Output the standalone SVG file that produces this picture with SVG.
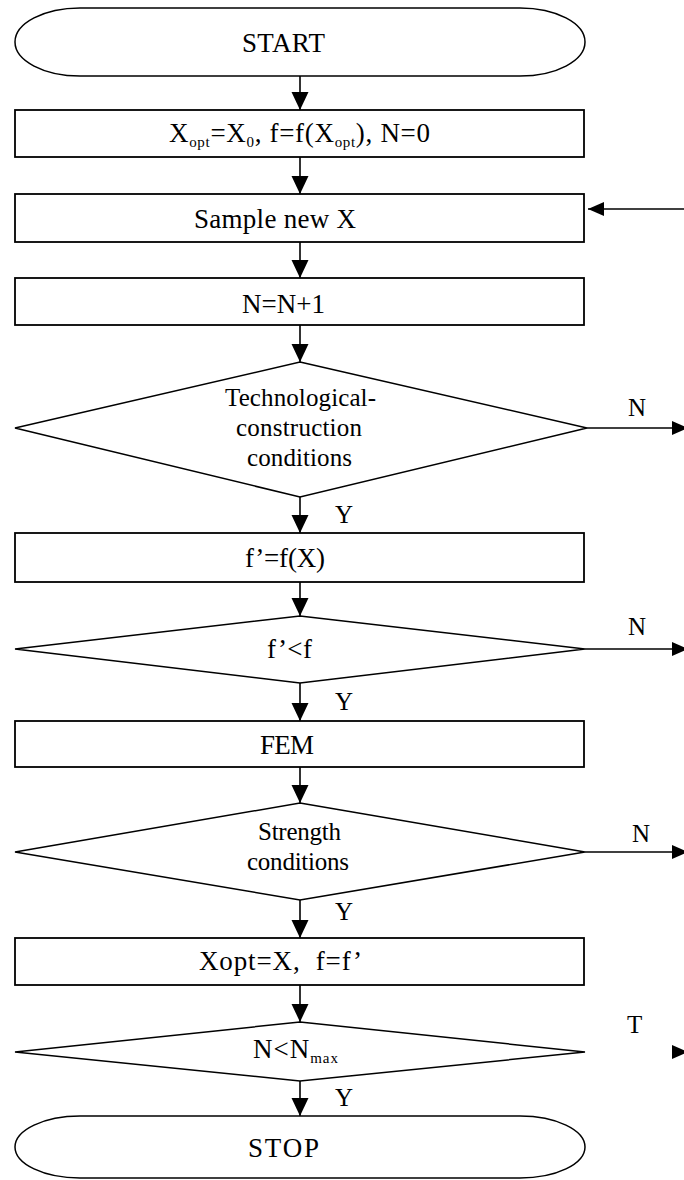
<svg xmlns="http://www.w3.org/2000/svg" width="684" height="1180" viewBox="0 0 684 1180" font-family="'Liberation Serif', 'DejaVu Serif', 'Times New Roman', serif">
<style>
.shape{fill:#ffffff;stroke:#000000;stroke-width:1.8}
.dia{fill:#ffffff;stroke:#000000;stroke-width:1.5}
.t{font-family:'Liberation Serif','DejaVu Serif',serif;font-size:27px;fill:#000000}
.d{font-family:'Liberation Serif','DejaVu Serif',serif;font-size:25px;fill:#000000}
.lbl{font-family:'Liberation Serif','DejaVu Serif',serif;font-size:25px;fill:#000000}
.sub{font-size:15px}
.c{fill:none;stroke:#000000;stroke-width:1.6}
.head{fill:#000000}
</style>
<defs>
<marker id="ah" markerUnits="userSpaceOnUse" markerWidth="17" markerHeight="18" refX="18" refY="8.5" orient="auto">
<path d="M0,0 L18,8.5 L0,17 Z" fill="#000000"/>
</marker>
<marker id="ahs" markerUnits="userSpaceOnUse" markerWidth="16" markerHeight="14" refX="16" refY="7" orient="auto">
<path d="M0,0 L16,7 L0,14 Z" fill="#000000"/>
</marker>
</defs>
<rect width="684" height="1180" fill="#ffffff"/>

<g id="connectors">
<line class="c" x1="300" y1="76" x2="300" y2="110" marker-end="url(#ah)"/>
<line class="c" x1="300" y1="157" x2="300" y2="194" marker-end="url(#ah)"/>
<line class="c" x1="300" y1="242" x2="300" y2="278" marker-end="url(#ah)"/>
<line class="c" x1="300" y1="325" x2="300" y2="362" marker-end="url(#ah)"/>
<line class="c" x1="300" y1="497" x2="300" y2="533" marker-end="url(#ah)"/>
<line class="c" x1="300" y1="582" x2="300" y2="616" marker-end="url(#ah)"/>
<line class="c" x1="300" y1="683" x2="300" y2="721" marker-end="url(#ah)"/>
<line class="c" x1="300" y1="767" x2="300" y2="803" marker-end="url(#ah)"/>
<line class="c" x1="300" y1="900" x2="300" y2="938" marker-end="url(#ah)"/>
<line class="c" x1="300" y1="985" x2="300" y2="1022" marker-end="url(#ah)"/>
<line class="c" x1="300" y1="1081" x2="300" y2="1116" marker-end="url(#ah)"/>
<line class="c" x1="684" y1="209" x2="588" y2="209" marker-end="url(#ahs)"/>
<line class="c" x1="587" y1="428" x2="688" y2="428" marker-end="url(#ahs)"/>
<line class="c" x1="585" y1="649" x2="688" y2="649" marker-end="url(#ahs)"/>
<line class="c" x1="585" y1="852" x2="688" y2="852" marker-end="url(#ahs)"/>
<path class="head" d="M672,1045 L688,1052 L672,1059 Z"/>
<text class="lbl" x="335" y="523">Y</text>
<text class="lbl" x="335" y="710">Y</text>
<text class="lbl" x="335" y="920">Y</text>
<text class="lbl" x="335" y="1106">Y</text>
<text class="lbl" x="628" y="416">N</text>
<text class="lbl" x="628" y="635">N</text>
<text class="lbl" x="632" y="842">N</text>
<text class="lbl" x="627" y="1033">T</text>
</g>

<g id="start">
<path class="dia" d="M80,8 L520,8 A65,34 0 0 1 520,76 L80,76 A65,34 0 0 1 80,8 Z"/>
<text class="t" x="242" y="52" textLength="83" lengthAdjust="spacing">START</text>
</g>

<g id="init">
<rect class="shape" x="15" y="110" width="569" height="47"/>
<text class="t" x="169" y="142" textLength="261" lengthAdjust="spacing">X<tspan class="sub" dy="5">opt</tspan><tspan dy="-5">=X</tspan><tspan class="sub" dy="5">0</tspan><tspan dy="-5">, f=f(X</tspan><tspan class="sub" dy="5">opt</tspan><tspan dy="-5">), N=0</tspan></text>
</g>

<g id="sample">
<rect class="shape" x="15" y="194" width="569" height="48"/>
<text class="t" x="194" y="228" textLength="162" lengthAdjust="spacing">Sample new X</text>
</g>

<g id="increment">
<rect class="shape" x="15" y="278" width="569" height="47"/>
<text class="t" x="242" y="313" textLength="83" lengthAdjust="spacing">N=N+1</text>
</g>

<g id="tech-cond">
<polygon class="dia" points="300,362 587,428 300,497 15,428"/>
<text class="d" x="225" y="406" textLength="151" lengthAdjust="spacing">Technological-</text>
<text class="d" x="236" y="436" textLength="126" lengthAdjust="spacing">construction</text>
<text class="d" x="247" y="466" textLength="105" lengthAdjust="spacing">conditions</text>
</g>

<g id="eval">
<rect class="shape" x="15" y="533" width="569" height="49"/>
<text class="t" x="245" y="567" textLength="80" lengthAdjust="spacing">f’=f(X)</text>
</g>

<g id="compare">
<polygon class="dia" points="300,616 585,649 300,683 15,649"/>
<text class="t" x="267" y="658" textLength="45" lengthAdjust="spacing">f’&lt;f</text>
</g>

<g id="fem">
<rect class="shape" x="15" y="721" width="569" height="46"/>
<text class="t" x="260" y="754" textLength="54" lengthAdjust="spacing">FEM</text>
</g>

<g id="strength">
<polygon class="dia" points="300,803 585,852 300,900 15,852"/>
<text class="d" x="258" y="840" textLength="83" lengthAdjust="spacing">Strength</text>
<text class="d" x="247" y="870" textLength="102" lengthAdjust="spacing">conditions</text>
</g>

<g id="update">
<rect class="shape" x="15" y="938" width="569" height="47"/>
<text class="t" x="199" y="970" textLength="163" lengthAdjust="spacing" xml:space="preserve">Xopt=X,  f=f’</text>
</g>

<g id="nmax">
<polygon class="dia" points="300,1022 585,1052 300,1081 15,1052"/>
<text class="t" x="253" y="1058" textLength="85" lengthAdjust="spacing">N&lt;N<tspan class="sub" dy="5">max</tspan></text>
</g>

<g id="stop">
<path class="dia" d="M80,1116 L520,1116 A65,31 0 0 1 520,1178 L80,1178 A65,31 0 0 1 80,1116 Z"/>
<text class="t" x="248" y="1157" textLength="71" lengthAdjust="spacing">STOP</text>
</g>
</svg>
